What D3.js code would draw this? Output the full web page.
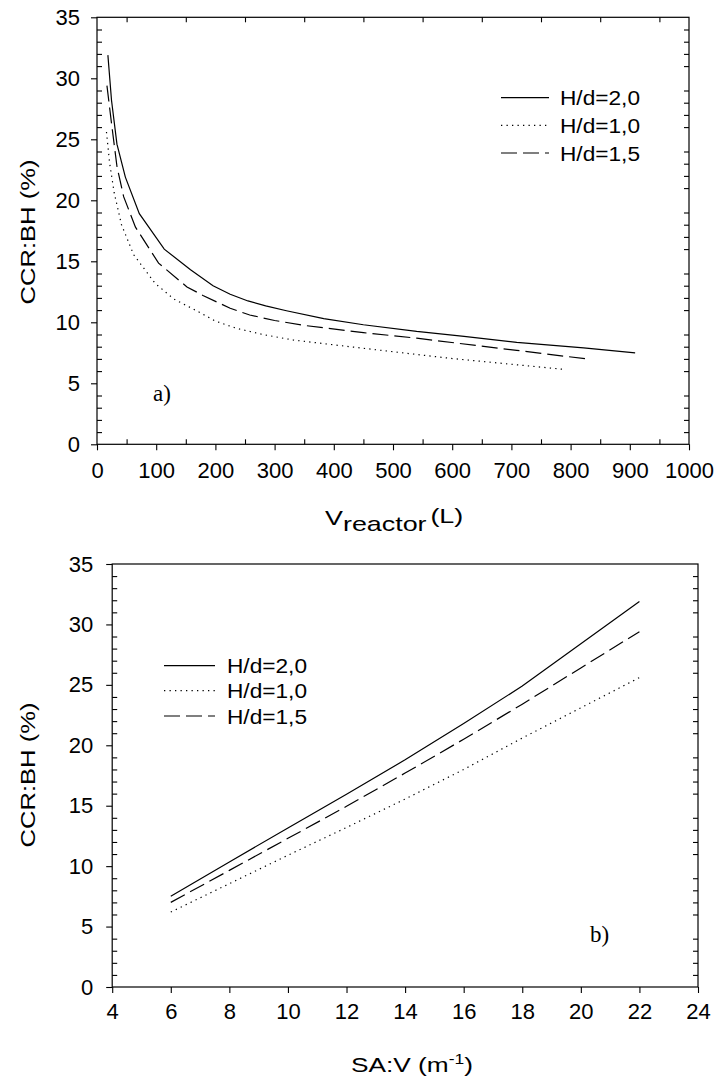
<!DOCTYPE html>
<html><head><meta charset="utf-8">
<script src="https://cdn.jsdelivr.net/npm/d3@7"></script>
<style>
body{margin:0;background:#fff;}
svg{display:block;font-family:"Liberation Sans",Arial,Helvetica,sans-serif;}
</style></head><body>
<svg id="c" width="715" height="1079"></svg>
<script>
// ---------- data ----------
const seriesNames = ["H/d=2,0", "H/d=1,0", "H/d=1,5"];

// panel a) : CCR:BH (%) versus reactor volume (L)
const vSolidA   = [18.4, 24.5, 33.7, 47.9, 71.5, 113.6, 158, 196, 225, 255, 285, 320, 383, 450, 540, 620, 709, 822, 909];
const ccrSolidA = [31.9, 28.2, 24.6, 21.9, 18.9, 16.0, 14.3, 13.0, 12.3, 11.75, 11.35, 10.95, 10.3, 9.8, 9.25, 8.85, 8.35, 7.9, 7.5];
const vDottedA   = [16, 21.2, 29.1, 41.4, 61.8, 98, 130, 170, 200, 236, 280, 331, 427, 596, 787];
const ccrDottedA = [25.6, 23.1, 20.6, 18.0, 15.55, 13.2, 11.9, 10.9, 10.1, 9.5, 9.0, 8.55, 8.0, 7.05, 6.15];
const vDashedA   = [16.8, 25.3, 33.8, 45, 65, 104, 152, 179, 225, 258, 300, 349, 450, 540, 640, 709, 827];
const ccrDashedA = [29.4, 26.0, 22.75, 20.3, 17.8, 14.85, 12.9, 12.2, 11.15, 10.6, 10.15, 9.75, 9.15, 8.7, 8.1, 7.7, 7.0];

// panel b) : CCR:BH (%) versus SA:V (m-1)
const saV        = [6, 8, 10, 12, 14, 16, 18, 20, 22];
const ccrSolidB  = [7.5, 10.35, 13.15, 15.95, 18.8, 21.8, 24.9, 28.4, 31.9];
const ccrDottedB = [6.2, 8.55, 10.9, 13.2, 15.55, 18.0, 20.6, 23.1, 25.6];
const ccrDashedB = [7.0, 9.65, 12.3, 14.95, 17.7, 20.5, 23.4, 26.4, 29.4];

// tick labels
const xTicksA = [0, 100, 200, 300, 400, 500, 600, 700, 800, 900, 1000];
const xMinorA = [50, 150, 250, 350, 450, 550, 650, 750, 850, 950];
const xTicksB = [4, 6, 8, 10, 12, 14, 16, 18, 20, 22, 24];
const yTicks  = [0, 5, 10, 15, 20, 25, 30, 35];
const yMinor  = d3.range(0, 36).filter(v => v % 5 !== 0);

// ---------- drawing ----------
const svg = d3.select("#c");
const dashStyles = ["none", "1.3,4.2", "16,6"];

function drawPanel(o) {
  const g = svg.append("g");
  const x = d3.scaleLinear().domain(o.xDomain).range([o.left, o.right]);
  const y = d3.scaleLinear().domain([0, 35]).range([o.bottom, o.top]);

  // minor inward ticks
  if (o.xMinor) {
    g.append("g").attr("transform", `translate(0,${o.bottom})`)
      .call(d3.axisBottom(x).tickValues(o.xMinor).tickSize(-5).tickSizeOuter(0).tickFormat(""))
      .call(s => s.select(".domain").remove());
    g.append("g").attr("transform", `translate(0,${o.top})`)
      .call(d3.axisTop(x).tickValues(o.xMinor).tickSize(-5).tickSizeOuter(0).tickFormat(""))
      .call(s => s.select(".domain").remove());
  }
  g.append("g").attr("transform", `translate(${o.left},0)`)
    .call(d3.axisLeft(y).tickValues(yMinor).tickSize(-5).tickSizeOuter(0).tickFormat(""))
    .call(s => s.select(".domain").remove());
  g.append("g").attr("transform", `translate(${o.right},0)`)
    .call(d3.axisRight(y).tickValues(yMinor).tickSize(-5).tickSizeOuter(0).tickFormat(""))
    .call(s => s.select(".domain").remove());

  // major axes
  const ax = g.append("g").attr("transform", `translate(0,${o.bottom})`)
    .call(d3.axisBottom(x).tickValues(o.xTicks).tickSize(6).tickSizeOuter(0)
      .tickPadding(o.xPad).tickFormat(d3.format("d")));
  const ay = g.append("g").attr("transform", `translate(${o.left},0)`)
    .call(d3.axisLeft(y).tickValues(yTicks).tickSize(6).tickSizeOuter(0)
      .tickPadding(o.yPad).tickFormat(d3.format("d")));
  [ax, ay].forEach(a => {
    a.selectAll("text").attr("font-size", 22).attr("font-family", "Liberation Sans, Arial, sans-serif").attr("fill", "#000");
    a.selectAll(".domain").remove();
  });

  // frame
  g.append("rect").attr("x", o.left).attr("y", o.top)
    .attr("width", o.right - o.left).attr("height", o.bottom - o.top)
    .attr("fill", "none").attr("stroke", "#000").attr("stroke-width", 1.2);
  g.selectAll(".tick line").attr("stroke", "#000").attr("stroke-width", 1.1);

  // curves
  const line = d3.line().x(d => x(d[0])).y(d => y(d[1]));
  o.series.forEach((s, i) => {
    g.append("path").datum(d3.zip(s.xs, s.ys))
      .attr("d", line).attr("fill", "none").attr("stroke", "#000")
      .attr("stroke-width", 1.2).attr("stroke-dasharray", dashStyles[s.style]);
  });

  // legend
  seriesNames.forEach((name, i) => {
    const ly = o.legY[i];
    g.append("line").attr("x1", o.legX1).attr("x2", o.legX2).attr("y1", ly).attr("y2", ly)
      .attr("stroke", "#000").attr("stroke-width", 1.2).attr("stroke-dasharray", dashStyles[i]);
    g.append("text").attr("transform", `translate(${o.legTX},${ly}) scale(1.08,1)`)
      .attr("dy", "0.36em").attr("font-size", 21).text(name);
  });

  // panel tag
  g.append("text").attr("x", o.tagX).attr("y", o.tagY)
    .attr("font-family", "Liberation Serif, Times New Roman, serif").attr("font-size", 23).text(o.tag);

  // y title
  g.append("text").attr("transform", `translate(35,${o.yTitleY}) rotate(-90) scale(1.22,1)`)
    .attr("text-anchor", "middle").attr("font-size", 21).text("CCR:BH (%)");
  return g;
}

drawPanel({
  xDomain: [0, 1000], left: 97, right: 689, top: 17.3, bottom: 444.3,
  xTicks: xTicksA, xMinor: xMinorA, xPad: 12, yPad: 11,
  series: [
    {xs: vSolidA, ys: ccrSolidA, style: 0},
    {xs: vDottedA, ys: ccrDottedA, style: 1},
    {xs: vDashedA, ys: ccrDashedA, style: 2}
  ],
  legX1: 501, legX2: 549, legTX: 560, legY: [97.7, 125.3, 153],
  tag: "a)", tagX: 153, tagY: 401, yTitleY: 232
});
// x title a)
const tA = svg.append("text").attr("transform", "translate(325,525) scale(1.28,1)").attr("font-size", 21);
tA.append("tspan").text("V");
tA.append("tspan").attr("dy", 6).text("reactor");
tA.append("tspan").attr("dy", -8).attr("dx", 3).text("(L)");

drawPanel({
  xDomain: [4, 24], left: 112.2, right: 698, top: 564, bottom: 987,
  xTicks: xTicksB, xMinor: null, xPad: 10, yPad: 13,
  series: [
    {xs: saV, ys: ccrSolidB, style: 0},
    {xs: saV, ys: ccrDottedB, style: 1},
    {xs: saV, ys: ccrDashedB, style: 2}
  ],
  legX1: 164, legX2: 215, legTX: 227, legY: [665.7, 690.7, 716],
  tag: "b)", tagX: 590, tagY: 942, yTitleY: 775
});
// x title b)
const tB = svg.append("text").attr("transform", "translate(351,1072) scale(1.25,1)").attr("font-size", 21);
tB.append("tspan").text("SA:V (m");
tB.append("tspan").attr("dy", -8).attr("font-size", 14).text("-1");
tB.append("tspan").attr("dy", 8).text(")");
</script>
</body></html>
